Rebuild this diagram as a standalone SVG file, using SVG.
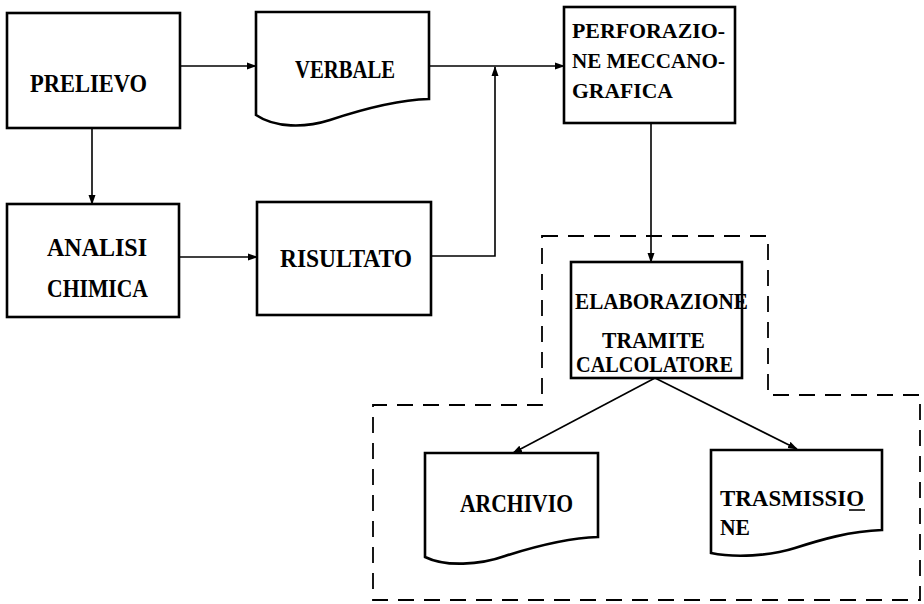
<svg xmlns="http://www.w3.org/2000/svg" width="924" height="604" viewBox="0 0 924 604">
<style>
.box{fill:#fff;stroke:#000;stroke-width:2.6;stroke-linejoin:miter}
.con{fill:none;stroke:#000;stroke-width:1.6}
.dash{fill:none;stroke:#000;stroke-width:1.8;stroke-dasharray:16 10}
text{font-family:"Liberation Serif","Times New Roman",serif;font-size:26px;font-weight:bold;fill:#000}
text.s{font-size:21px}
text.m{font-size:24px}
</style>
<defs>
<marker id="ah" markerWidth="10" markerHeight="8" refX="9" refY="4" orient="auto" markerUnits="userSpaceOnUse">
<path d="M0,0.5 L10,4 L0,7.5 Z" fill="#000"/>
</marker>
</defs>
<rect width="924" height="604" fill="#fff"/>
<g id="boundary">
<path class="dash" d="M542,236 H768 V395 H920 V600 H373 V405 H542 Z"/>
</g>
<g id="connectors">
<line class="con" x1="180" y1="66" x2="256" y2="66" marker-end="url(#ah)"/>
<line class="con" x1="429" y1="66" x2="564" y2="66" marker-end="url(#ah)"/>
<polyline class="con" points="431,256 495,256 495,67" marker-end="url(#ah)"/>
<line class="con" x1="92" y1="128" x2="92" y2="204" marker-end="url(#ah)"/>
<line class="con" x1="179" y1="257" x2="257" y2="257" marker-end="url(#ah)"/>
<line class="con" x1="651" y1="123" x2="651" y2="262" marker-end="url(#ah)"/>
<line class="con" x1="655" y1="378" x2="513" y2="453" marker-end="url(#ah)"/>
<line class="con" x1="655" y1="378" x2="797" y2="449" marker-end="url(#ah)"/>
</g>
<g id="prelievo">
<rect class="box" x="7" y="13" width="173" height="115"/>
<text x="30" y="92" textLength="117" lengthAdjust="spacingAndGlyphs">PRELIEVO</text>
</g>
<g id="verbale">
<path class="box" d="M256,12 H429 V99 C395,100 360,110 330,120 C305,128 275,128 256,115 Z"/>
<text x="295" y="78" textLength="100" lengthAdjust="spacingAndGlyphs">VERBALE</text>
</g>
<g id="perforazione">
<rect class="box" x="564" y="7" width="171" height="116"/>
<text class="s" x="572" y="38" textLength="153" lengthAdjust="spacingAndGlyphs">PERFORAZIO-</text>
<text class="s" x="572" y="68" textLength="153" lengthAdjust="spacingAndGlyphs">NE MECCANO-</text>
<text class="s" x="572" y="98" textLength="101" lengthAdjust="spacingAndGlyphs">GRAFICA</text>
</g>
<g id="analisi">
<rect class="box" x="7" y="204" width="172" height="113"/>
<text x="47" y="256" textLength="100" lengthAdjust="spacingAndGlyphs">ANALISI</text>
<text x="47" y="297" textLength="101" lengthAdjust="spacingAndGlyphs">CHIMICA</text>
</g>
<g id="risultato">
<rect class="box" x="257" y="202" width="174" height="113"/>
<text x="280" y="267" textLength="132" lengthAdjust="spacingAndGlyphs">RISULTATO</text>
</g>
<g id="elaborazione">
<rect class="box" x="571" y="262" width="171" height="116"/>
<text class="m" x="575" y="309" textLength="173" lengthAdjust="spacingAndGlyphs">ELABORAZIONE</text>
<text class="m" x="602" y="348" textLength="103" lengthAdjust="spacingAndGlyphs">TRAMITE</text>
<text class="m" x="576" y="372" textLength="157" lengthAdjust="spacingAndGlyphs">CALCOLATORE</text>
</g>
<g id="archivio">
<path class="box" d="M425,453 H598 V537 C565,538 530,548 505,556 C480,565 445,567 425,557 Z"/>
<text x="460" y="512" textLength="113" lengthAdjust="spacingAndGlyphs">ARCHIVIO</text>
</g>
<g id="trasmissione">
<path class="box" d="M711,450 H882 V530 C850,531 820,540 795,548 C770,556 735,558 711,553 Z"/>
<text class="m" x="720" y="506" textLength="144" lengthAdjust="spacingAndGlyphs">TRASMISSIO</text>
<line x1="849" y1="510" x2="865" y2="510" stroke="#000" stroke-width="1.6"/>
<text class="m" x="720" y="535" textLength="30" lengthAdjust="spacingAndGlyphs">NE</text>
</g>
</svg>
